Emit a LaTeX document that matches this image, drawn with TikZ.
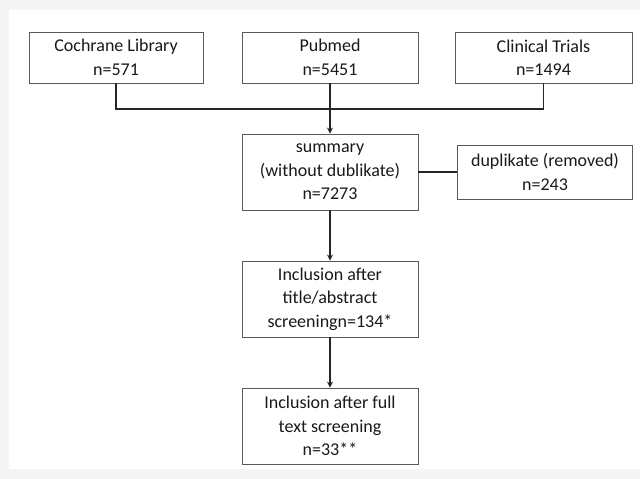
\documentclass[tikz,border=0pt]{standalone}
\usepackage{fontspec}
\setmainfont{Carlito}
\usetikzlibrary{arrows.meta}
\begin{document}
\begin{tikzpicture}[x=1pt,y=-1pt,
  box/.style={draw=gray!70!black,line width=0.8pt,fill=white,align=center,inner sep=0pt,
    font=\fontsize{18}{23.5}\selectfont,text=black!90},
  conn/.style={line width=1.5pt,black!85},
  arr/.style={conn,-{Stealth[length=6pt,width=6pt]}}]
\useasboundingbox (0,0) rectangle (640,479);
\fill[gray!8] (0,0) rectangle (640,479);
\fill[white] (9,10) rectangle (640,469);
\node[box,minimum width=174pt,minimum height=51pt] (coch) at (116,57.5) {Cochrane Library\\n=571};
\node[box,minimum width=176pt,minimum height=51pt] (pub) at (330,57.5) {Pubmed\\n=5451};
\node[box,minimum width=177pt,minimum height=51pt] (clin) at (543.5,57.5) {Clinical Trials\\n=1494};
\node[box,minimum width=176pt,minimum height=76pt] (summ) at (330,172) {summary\\(without dublikate)\\n=7273};
\node[box,minimum width=175pt,minimum height=54pt] (dup) at (545,172) {duplikate (removed)\\n=243};
\node[box,minimum width=176pt,minimum height=76pt] (inc1) at (330,299) {Inclusion after\\title/abstract\\screeningn=134*};
\node[box,minimum width=176pt,minimum height=76pt] (inc2) at (330,426) {Inclusion after full\\text screening\\n=33**};
\coordinate (bar) at (0,109);
\draw[conn] (coch.south) |- (bar -| clin.south) -- (clin.south);
\draw[arr] (pub.south) -- (summ.north);
\draw[conn] (summ.east) -- (dup.west);
\draw[arr] (summ.south) -- (inc1.north);
\draw[arr] (inc1.south) -- (inc2.north);
\end{tikzpicture}
\end{document}
